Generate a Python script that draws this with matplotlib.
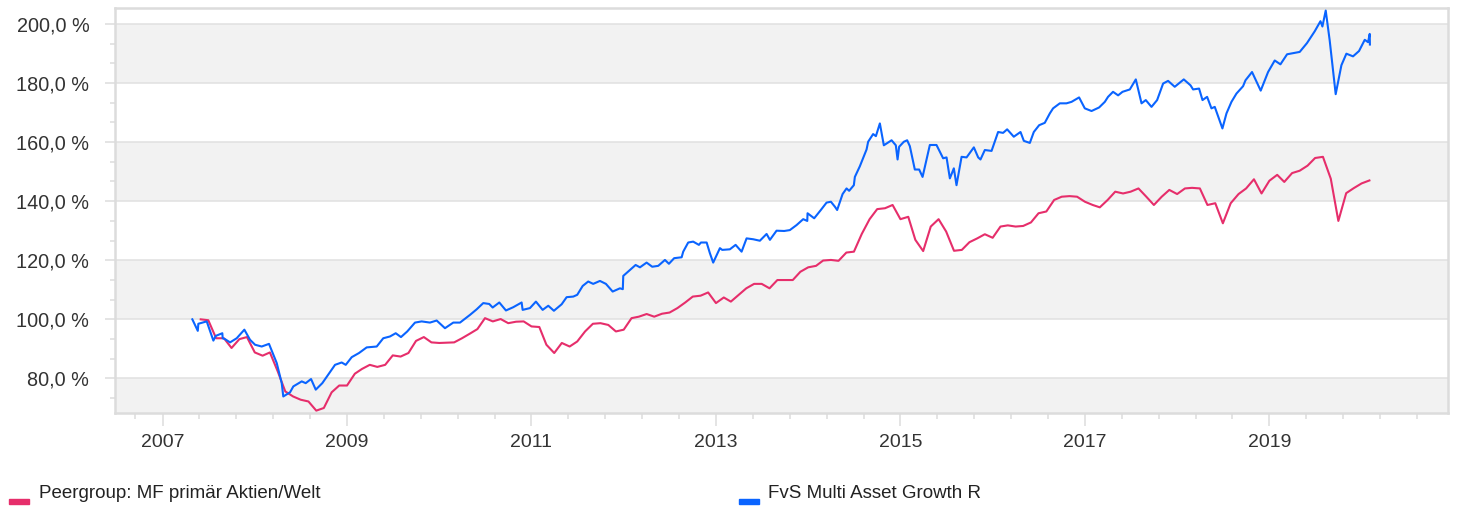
import numpy as np
import pandas as pd
import matplotlib
matplotlib.use("Agg")
import matplotlib.pyplot as plt
from matplotlib.ticker import FixedLocator, FuncFormatter
from matplotlib.patches import Rectangle

plt.rcParams['font.family'] = ['Liberation Sans', 'DejaVu Sans']

# Peergroup: monthly values (month end), starting May 2007
red_start = '2007-05-31'
red_values = [
    100.0, 99.7, 93.6, 93.6, 90.3, 93.3, 94.0, 88.8, 87.7, 88.8, 82.4, 75.6, 73.9, 72.8,
    72.2, 69.1, 70.0, 75.3, 77.6, 77.6, 81.6, 83.2, 84.6, 83.9, 84.6, 87.8, 87.4,
    88.6, 92.7, 94.0, 92.2, 92.0, 92.1, 92.2, 93.6, 95.1, 96.7, 100.4, 99.3, 100.1, 98.7,
    99.2, 99.3, 97.6, 97.4, 91.4, 88.6, 92.0, 90.8, 92.5, 95.9, 98.5, 98.7, 98.1, 95.9, 96.5,
    100.4, 100.9, 101.8, 100.9, 101.9, 102.3, 103.8, 105.7, 107.7, 108.0, 109.1, 105.5, 107.4,
    106.0, 108.3, 110.5, 112.0, 112.0, 110.5, 113.3, 113.3, 113.3, 116.1, 117.6, 118.1, 119.9, 120.1,
    119.8, 122.6, 122.9, 128.9, 133.9, 137.3, 137.6, 138.7, 133.9, 134.7, 126.9, 123.1, 131.4,
    133.9, 129.7, 123.2, 123.5, 126.1, 127.4, 128.8, 127.6, 131.4, 131.8, 131.4, 131.6, 132.8,
    135.9, 136.5,
    140.4, 141.5, 141.7, 141.5, 139.8, 138.7, 137.9, 140.4, 143.2, 142.6, 143.2, 144.3, 141.5,
    138.7, 141.5, 143.8, 142.4, 144.3, 144.5, 144.3, 138.7, 139.3, 132.5, 139.3, 142.4, 144.3,
    147.4, 142.6, 146.9,
    148.9, 146.5, 149.5, 150.3, 152.0, 154.6, 155.0, 147.6, 133.3, 142.7, 144.4, 146.0, 147.0,
]

# Fund: irregular observations (decimal year, value in %)
blue_t = [
    2007.323, 2007.382, 2007.388, 2007.479, 2007.551, 2007.577, 2007.648, 2007.652, 2007.677,
    2007.732, 2007.804, 2007.887, 2007.948, 2008.003, 2008.075, 2008.154, 2008.238, 2008.292,
    2008.309, 2008.382, 2008.418, 2008.509, 2008.552, 2008.610, 2008.661, 2008.732, 2008.808,
    2008.870, 2008.942, 2008.986, 2009.051, 2009.130, 2009.213, 2009.322, 2009.393, 2009.466,
    2009.528, 2009.585, 2009.653, 2009.737, 2009.809, 2009.899, 2009.972, 2010.062, 2010.152,
    2010.225, 2010.333, 2010.406, 2010.477, 2010.542, 2010.579, 2010.651, 2010.723, 2010.802,
    2010.893, 2010.904, 2010.983, 2011.048, 2011.121, 2011.182, 2011.243, 2011.327, 2011.381,
    2011.453, 2011.496, 2011.555, 2011.615, 2011.669, 2011.742, 2011.807, 2011.880, 2011.959,
    2011.990, 2011.995, 2012.067, 2012.129, 2012.176, 2012.248, 2012.309, 2012.374, 2012.447,
    2012.490, 2012.547, 2012.628, 2012.645, 2012.699, 2012.753, 2012.815, 2012.837, 2012.899,
    2012.934, 2012.970, 2013.043, 2013.068, 2013.151, 2013.213, 2013.278, 2013.332, 2013.404,
    2013.476, 2013.549, 2013.585, 2013.657, 2013.740, 2013.801, 2013.874, 2013.946, 2013.990,
    2013.993, 2014.065, 2014.137, 2014.199, 2014.246, 2014.290, 2014.314, 2014.373, 2014.416,
    2014.444, 2014.495, 2014.506, 2014.560, 2014.633, 2014.650, 2014.704, 2014.734, 2014.777,
    2014.820, 2014.904, 2014.950, 2014.969, 2014.986, 2015.037, 2015.073, 2015.102, 2015.156,
    2015.203, 2015.240, 2015.319, 2015.391, 2015.463, 2015.500, 2015.536, 2015.579, 2015.608,
    2015.663, 2015.717, 2015.796, 2015.843, 2015.868, 2015.915, 2015.988, 2016.059, 2016.113,
    2016.157, 2016.229, 2016.302, 2016.338, 2016.403, 2016.446, 2016.504, 2016.565, 2016.620,
    2016.655, 2016.728, 2016.800, 2016.855, 2016.937, 2016.980, 2016.999, 2017.072, 2017.154,
    2017.216, 2017.251, 2017.305, 2017.360, 2017.408, 2017.487, 2017.552, 2017.614, 2017.660,
    2017.722, 2017.783, 2017.848, 2017.902, 2017.974, 2018.072, 2018.145, 2018.173, 2018.238,
    2018.275, 2018.325, 2018.372, 2018.408, 2018.491, 2018.535, 2018.589, 2018.643, 2018.715,
    2018.741, 2018.812, 2018.906, 2018.986, 2019.058, 2019.120, 2019.192, 2019.329, 2019.408,
    2019.492, 2019.554, 2019.575, 2019.611, 2019.654, 2019.719, 2019.781, 2019.835, 2019.907,
    2019.972, 2020.034, 2020.070, 2020.088, 2020.090,
]
blue_values = [
    100.0, 96.1, 98.5, 99.3, 92.8, 94.4, 95.3, 93.6, 93.3,
    92.2, 93.6, 96.5, 93.1, 91.4, 90.8, 91.7, 85.2, 78.4,
    73.9, 75.3, 77.3, 79.0, 78.4, 79.8, 76.2, 78.4, 81.8,
    84.6, 85.4, 84.6, 87.2, 88.6, 90.5, 90.8, 93.6, 94.2,
    95.3, 94.0, 95.9, 98.9, 99.3, 98.9, 99.6, 97.0, 98.9,
    98.9, 101.5, 103.4, 105.5, 105.2, 104.0, 105.7, 103.0, 104.1,
    105.7, 103.2, 103.8, 106.0, 103.2, 104.6, 102.9, 105.1, 107.5,
    107.7, 108.3, 111.3, 112.8, 112.0, 113.0, 112.0, 109.4, 110.5,
    110.2, 114.7, 116.7, 118.4, 117.6, 119.2, 117.8, 118.1, 120.1,
    118.8, 120.7, 121.0, 122.9, 126.0, 126.3, 125.2, 126.0, 126.0,
    122.4, 119.2, 124.1, 123.5, 123.7, 125.2, 122.9, 127.4, 127.1,
    126.6, 128.9, 126.9, 130.0, 129.9, 130.2, 131.9, 133.9, 133.3,
    135.9, 134.2, 137.0, 139.5, 139.8, 138.1, 137.0, 142.4, 144.3,
    143.5, 145.4, 148.2, 151.8, 157.5, 160.1, 162.7, 162.0, 166.3,
    158.9, 160.6, 158.9, 154.1, 158.4, 160.1, 160.6, 158.6, 150.7,
    150.7, 148.2, 159.0, 159.0, 154.5, 154.8, 147.7, 151.1, 145.4,
    155.0, 154.8, 158.2, 154.8, 154.1, 157.3, 157.0, 163.4, 163.1,
    164.3, 161.8, 163.4, 160.4, 159.7, 163.4, 165.7, 166.5, 169.7,
    171.4, 173.1, 173.1, 173.6, 175.1, 172.5, 171.4, 170.5, 171.7,
    173.6, 175.3, 177.0, 175.8, 177.0, 177.8, 181.2, 173.1, 174.2,
    171.9, 174.2, 179.8, 180.7, 178.7, 181.2, 179.2, 177.8, 178.1,
    174.2, 175.3, 171.4, 171.9, 164.6, 169.7, 173.6, 176.4, 178.9,
    180.9, 183.7, 177.4, 183.7, 187.6, 186.3, 189.7, 190.5, 193.5,
    197.5, 200.9, 199.1, 204.5, 194.4, 176.2, 186.0, 189.9, 189.0,
    190.8, 194.6, 193.8, 196.6, 193.0,
]

red_label = 'Peergroup: MF primär Aktien/Welt'
blue_label = 'FvS Multi Asset Growth R'
red_color = '#e62e6b'
blue_color = '#0a64ff'

year_ticks = [2007, 2009, 2011, 2013, 2015, 2017, 2019]
y_ticks = [80, 100, 120, 140, 160, 180, 200]

dates = pd.date_range(red_start, periods=len(red_values), freq='ME')
red_t = dates.year + dates.dayofyear / (365 + dates.is_leap_year)

fig = plt.figure(figsize=(14.6, 5.08), dpi=100)
ax = fig.add_axes([0.0788, 0.187, 0.913, 0.7963])

ax.set_xlim(2006.485, 2020.937)
ax.set_ylim(68.3, 205.2)

# alternating bands
for lo in [60, 100, 140, 180]:
    ax.axhspan(lo, lo + 20, color='#f2f2f2', zorder=0, lw=0)
for v in y_ticks:
    ax.axhline(v, color='#e0e0e0', lw=1.1, zorder=1)

ax.plot(red_t, red_values, color=red_color, lw=1.5, zorder=3)
ax.plot(blue_t, blue_values, color=blue_color, lw=1.5, zorder=4)

for s in ax.spines.values():
    s.set_color('#dcdcdc')
    s.set_linewidth(1.8)

ax.xaxis.set_major_locator(FixedLocator(year_ticks))
minor_x = [2006.7] + [v for v in np.arange(2007.4, 2021, 0.4) if abs(v - round(v)) > 0.05 or round(v) % 2 == 0]
ax.xaxis.set_minor_locator(FixedLocator(minor_x))
ax.yaxis.set_major_locator(FixedLocator(y_ticks))
ax.yaxis.set_minor_locator(FixedLocator([v for v in np.arange(60, 210, 20 / 3)
                                         if min(abs(v - t) for t in y_ticks + [60]) > 1]))
ax.yaxis.set_major_formatter(FuncFormatter(lambda v, p: f"{v:.1f} %".replace('.', ',')))

ax.tick_params(axis='both', which='major', color='#dcdcdc', width=1.1,
               labelcolor='#333333')
ax.tick_params(axis='x', which='major', length=9, pad=6, labelsize=14)
ax.tick_params(axis='y', which='major', length=7.5, pad=11, labelsize=14.3)
ax.tick_params(axis='x', which='minor', color='#dcdcdc', width=1.1, length=4.5)
ax.tick_params(axis='y', which='minor', color='#dcdcdc', width=1.1, length=3.6)

# legend below the plot
fig.patches.append(Rectangle((9 / 1460, 1 - 504 / 508), 20 / 1460, 5.5 / 508,
                             transform=fig.transFigure, color=red_color))
fig.text(39 / 1460, 1 - 493 / 508, red_label, fontsize=13.5, color='#222222', va='center')
fig.patches.append(Rectangle((739 / 1460, 1 - 504 / 508), 20 / 1460, 5.5 / 508,
                             transform=fig.transFigure, color=blue_color))
fig.text(768 / 1460, 1 - 493 / 508, blue_label, fontsize=13.5, color='#222222', va='center')

fig.savefig('out.png', dpi=100)
